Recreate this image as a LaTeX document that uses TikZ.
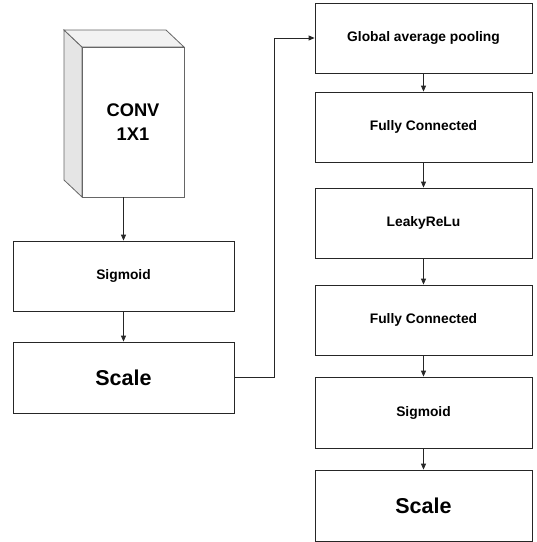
\documentclass[tikz,border=0pt]{standalone}
\usepackage{fontspec}
\setmainfont{Liberation Sans}
\usepackage{tikz}
\usetikzlibrary{arrows.meta}

\begin{document}
\begin{tikzpicture}[x=1pt, y=-1pt,
    block/.style={draw=black!85, fill=white, line width=0.8pt, minimum width=217pt, minimum height=70pt,
        inner sep=0pt, font=\fontsize{13.8}{16}\selectfont\bfseries},
    bigblock/.style={block, font=\fontsize{21.5}{25}\selectfont\bfseries},
    link/.style={draw=black!85, line width=0.8pt, -{Triangle[length=6pt, width=5pt]}}]
    \useasboundingbox (0,0) rectangle (537,542);

    % Draw the cube (side, top, front)
    \fill[black!10, draw=black!60, line width=0.8pt] (82,47) -- (64,30) -- (64,180) -- (82,197) -- cycle;
    \fill[black!5, draw=black!60, line width=0.8pt] (82,47) -- (64,30) -- (166,30) -- (184,47) -- cycle;
    \node[draw=black!60, fill=white, line width=0.8pt, minimum width=102pt, minimum height=150pt,
        align=center, font=\fontsize{18.3}{24}\selectfont\bfseries] (conv) at (133,122) {CONV\\1X1};

    % Left column
    \node[block, minimum width=221pt] (sigL) at (123.5,276) {Sigmoid};
    \node[bigblock, minimum width=221pt, minimum height=71pt] (scaleL) at (123.5,377.5) {Scale};

    % Right column
    \node[block] (gap) at (423.5,38) {Global average pooling};
    \node[block] (fc1) at (423.5,127) {Fully Connected};
    \node[block] (relu) at (423.5,223) {LeakyReLu};
    \node[block] (fc2) at (423.5,320) {Fully Connected};
    \node[block, minimum height=71pt] (sigR) at (423.5,412.5) {Sigmoid};
    \node[bigblock, minimum height=71pt] (scaleR) at (423.5,505.5) {Scale};

    % Draw connectors
    \draw[link] (sigL.north |- conv.south) -- (sigL.north);
    \draw[link] (sigL) -- (scaleL);
    \draw[link] (scaleL.east) -- ++(40,0) |- (gap.west);
    \draw[link] (gap) -- (fc1);
    \draw[link] (fc1) -- (relu);
    \draw[link] (relu) -- (fc2);
    \draw[link] (fc2) -- (sigR);
    \draw[link] (sigR) -- (scaleR);
\end{tikzpicture}
\end{document}
